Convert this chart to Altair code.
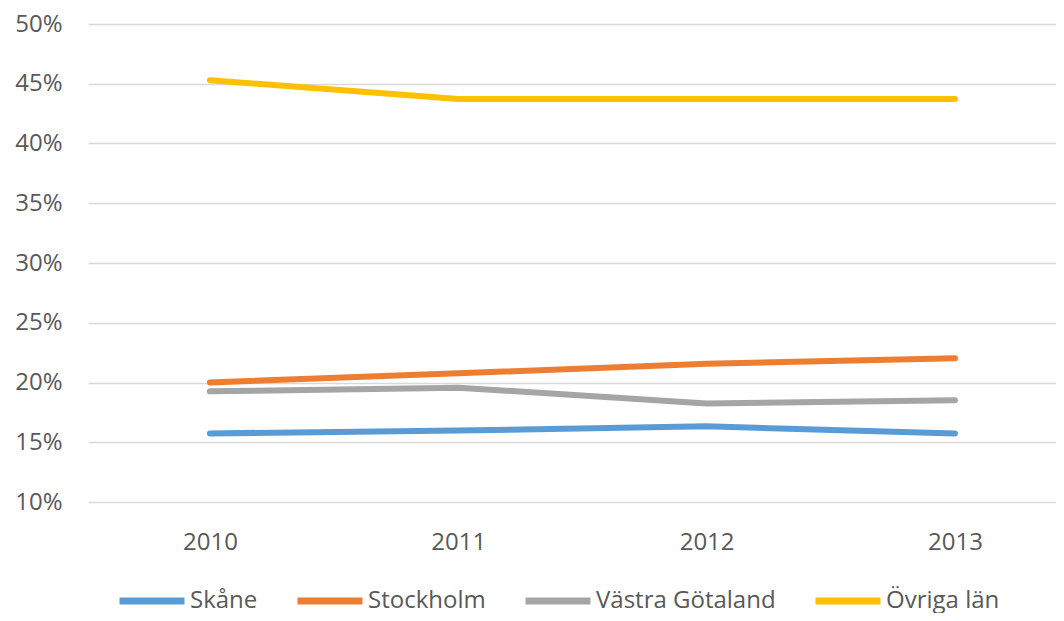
import altair as alt
import pandas as pd

years = [2010, 2011, 2012, 2013]
series_names = ["Skåne", "Stockholm", "Västra Götaland", "Övriga län"]
skane = [0.1574, 0.1598, 0.1633, 0.1574]
stockholm = [0.2000, 0.2077, 0.2157, 0.2202]
vastra = [0.1926, 0.1957, 0.1824, 0.1851]
ovriga = [0.4530, 0.4372, 0.4372, 0.4372]
colors = ["#5B9BD5", "#ED7D31", "#A5A5A5", "#FFC000"]
y_ticks = [0.10, 0.15, 0.20, 0.25, 0.30, 0.35, 0.40, 0.45, 0.50]

rows = []
for name, vals in zip(series_names, [skane, stockholm, vastra, ovriga]):
    for yr, v in zip(years, vals):
        rows.append({"Year": yr, "Series": name, "Value": v})
df = pd.DataFrame(rows)

FONT = "Open Sans"
TXT = "#595959"

chart = alt.Chart(df).mark_line(
    strokeWidth=6, strokeCap="round", strokeJoin="round"
).encode(
    x=alt.X("Year:Q",
            scale=alt.Scale(domain=[2009.509, 2013.407], nice=False, zero=False),
            axis=alt.Axis(title=None, values=years, format="d", ticks=False,
                          domain=False, grid=False,
                          labelAngle=0, labelFont=FONT, labelFontSize=24,
                          labelColor=TXT, labelPadding=28, labelFlush=False)),
    y=alt.Y("Value:Q",
            scale=alt.Scale(domain=[0.1, 0.5], nice=False, zero=False),
            axis=alt.Axis(title=None, values=y_ticks, format=".0%", ticks=False,
                          domain=False, grid=True, gridColor="#D9D9D9",
                          gridWidth=1.5, labelFont=FONT, labelFontSize=24,
                          labelColor=TXT, labelPadding=26)),
    color=alt.Color("Series:N", sort=series_names,
                    scale=alt.Scale(domain=series_names, range=colors),
                    legend=alt.Legend(title=None, orient="none", direction="horizontal",
                                      columns=4, columnPadding=25,
                                      legendX=28, legendY=541,
                                      symbolType="stroke", symbolSize=4225,
                                      symbolStrokeWidth=7, labelOffset=2,
                                      labelFont=FONT, labelFontSize=24,
                                      labelColor=TXT, padding=0,
                                      labelLimit=400)),
).properties(
    width=968, height=478,
    autosize=alt.AutoSizeParams(type="none"),
    padding={"left": 80, "top": 16, "right": 0, "bottom": 111},
).configure_view(stroke=None)

chart.save("out.html", embed_options={"renderer": "svg", "actions": False})
